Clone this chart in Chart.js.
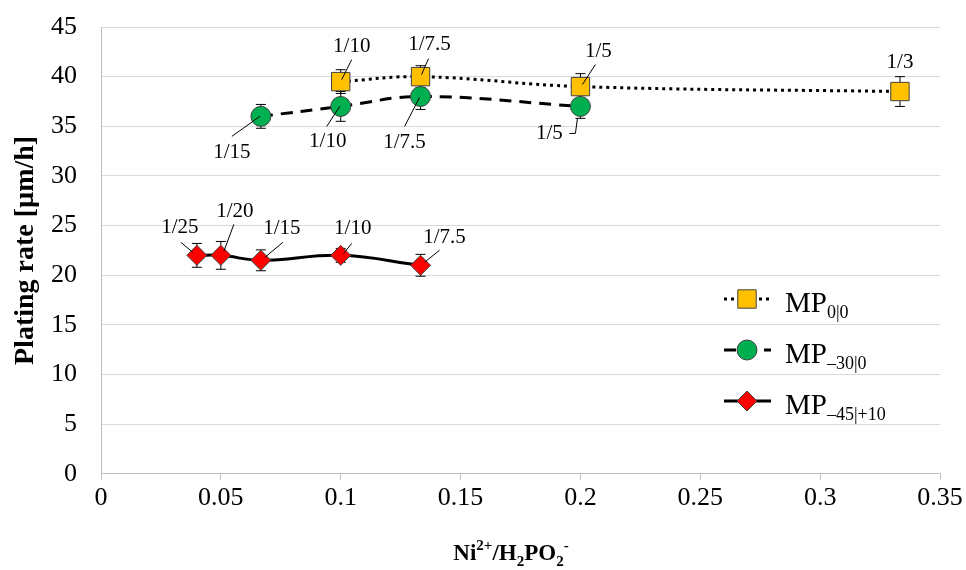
<!DOCTYPE html>
<html lang="en">
<head>
<meta charset="UTF-8">
<title>Plating rate vs Ni2+/H2PO2- ratio</title>
<script src="https://cdn.jsdelivr.net/npm/chart.js"></script>
<style>
  body { margin: 0; background: #fff; }
</style>
</head>
<body>
<canvas id="rateChart" width="966" height="570"></canvas>
<script>
// ---- data ----
const ratioMP00 = [0.1, 0.1333, 0.2, 0.3333];
const rateMP00 = [39.5, 40.0, 39.0, 38.5];
const errMP00 = [1.2, 1.1, 1.3, 1.5];
const textMP00 = ['1/10', '1/7.5', '1/5', '1/3'];

const ratioMP30 = [0.0667, 0.1, 0.1333, 0.2];
const rateMP30 = [36.0, 37.0, 38.0, 37.0];
const errMP30 = [1.2, 1.5, 1.3, 1.2];
const textMP30 = ['1/15', '1/10', '1/7.5', '1/5'];

const ratioMP45 = [0.04, 0.05, 0.0667, 0.1, 0.1333];
const rateMP45 = [22.0, 22.0, 21.5, 22.0, 21.0];
const errMP45 = [1.2, 1.4, 1.05, 0.7, 1.1];
const textMP45 = ['1/25', '1/20', '1/15', '1/10', '1/7.5'];

// label placement (pixel offsets from the point): text centre + leader polyline
const placeMP00 = [
  { t: [11, -35], l: [[11, -22], [1, -2]] },
  { t: [9, -32], l: [[8, -18], [1, -2]] },
  { t: [18, -35], l: [[15, -22], [2, -2]] },
  { t: [0, -29], l: null }
];
const placeMP30 = [
  { t: [-29, 36], l: [[-29, 20], [-1, 0]] },
  { t: [-13, 35], l: [[-14, 20], [-1, 0]] },
  { t: [-16, 46], l: [[-16, 30], [-1, 1]] },
  { t: [-31, 27], l: [[-11, 27], [-5, 27], [-3, 12]] }
];
const placeMP45 = [
  { t: [-17, -28], l: [[-16, -13], [-4, -3]] },
  { t: [14, -44], l: [[13, -31], [3, -4]] },
  { t: [21, -32], l: [[22, -18], [4, -3]] },
  { t: [12, -27], l: [[11, -12], [3, -2]] },
  { t: [24, -28], l: [[19, -15], [4, -3]] }
];

const serif = 'Liberation Serif';
const axisGrey = '#bfbfbf';
const toXY = (xs, ys) => xs.map((x, i) => ({ x: x, y: ys[i] }));

// error bars, drawn under the markers
const errorBars = {
  id: 'errorBars',
  beforeDatasetsDraw(chart) {
    const ctx = chart.ctx, xs = chart.scales.x, ys = chart.scales.y;
    ctx.save();
    ctx.strokeStyle = '#000';
    ctx.lineWidth = 1;
    chart.data.datasets.forEach(ds => {
      ds.data.forEach((p, i) => {
        const x = xs.getPixelForValue(p.x);
        const y1 = ys.getPixelForValue(p.y + ds.err[i]);
        const y2 = ys.getPixelForValue(p.y - ds.err[i]);
        ctx.beginPath();
        ctx.moveTo(x, y1); ctx.lineTo(x, y2);
        ctx.moveTo(x - 5, y1); ctx.lineTo(x + 5, y1);
        ctx.moveTo(x - 5, y2); ctx.lineTo(x + 5, y2);
        ctx.stroke();
      });
    });
    ctx.restore();
  }
};

// ratio labels with leader lines
const ratioLabels = {
  id: 'ratioLabels',
  afterDatasetsDraw(chart) {
    const ctx = chart.ctx, xs = chart.scales.x, ys = chart.scales.y;
    ctx.save();
    ctx.font = '21px "' + serif + '"';
    ctx.textAlign = 'center';
    ctx.textBaseline = 'middle';
    ctx.fillStyle = '#000';
    ctx.strokeStyle = '#000';
    ctx.lineWidth = 1;
    chart.data.datasets.forEach(ds => {
      ds.data.forEach((p, i) => {
        const px = xs.getPixelForValue(p.x), py = ys.getPixelForValue(p.y);
        const pl = ds.place[i];
        if (pl.l) {
          ctx.beginPath();
          pl.l.forEach((o, k) => k ? ctx.lineTo(px + o[0], py + o[1]) : ctx.moveTo(px + o[0], py + o[1]));
          ctx.stroke();
        }
        ctx.fillText(ds.texts[i], px + pl.t[0], py + pl.t[1]);
      });
    });
    ctx.restore();
  }
};

// text with sub/superscripts: parts = [text, shift]
function drawRich(ctx, parts, cx, y, big, small, bold) {
  const w = bold ? 'bold ' : '';
  let total = 0;
  parts.forEach(p => {
    ctx.font = w + (p[1] ? small : big) + 'px "' + serif + '"';
    total += ctx.measureText(p[0]).width;
  });
  let x = cx - total / 2;
  parts.forEach(p => {
    ctx.font = w + (p[1] ? small : big) + 'px "' + serif + '"';
    ctx.fillText(p[0], x, y + p[1]);
    x += ctx.measureText(p[0]).width;
  });
}

// x-axis title and legend
const extras = {
  id: 'extras',
  afterDraw(chart) {
    const ctx = chart.ctx;
    ctx.save();
    ctx.fillStyle = '#000';
    ctx.textAlign = 'left';
    ctx.textBaseline = 'alphabetic';
    drawRich(ctx, [['Ni', 0], ['2+', -10], ['/H', 0], ['2', 6], ['PO', 0], ['2', 6], ['-', -10]],
      511, 560, 23, 15, true);

    const rows = [
      { ds: chart.data.datasets[0], sub: '0|0', y: 299 },
      { ds: chart.data.datasets[1], sub: '\u201330|0', y: 350 },
      { ds: chart.data.datasets[2], sub: '\u201345|+10', y: 401 }
    ];
    rows.forEach(r => {
      ctx.save();
      ctx.strokeStyle = '#000';
      ctx.lineWidth = 3;
      ctx.setLineDash(r.ds.borderDash || []);
      ctx.beginPath();
      ctx.moveTo(724, r.y); ctx.lineTo(771, r.y);
      ctx.stroke();
      ctx.restore();
      ctx.fillStyle = r.ds.pointBackgroundColor;
      ctx.strokeStyle = r.ds.pointBorderColor;
      ctx.lineWidth = 1;
      Chart.helpers.drawPoint(ctx, { pointStyle: r.ds.pointStyle, radius: r.ds.pointRadius, rotation: 0, borderWidth: 1 }, 747, r.y);
      ctx.fillStyle = '#000';
      ctx.font = '29px "' + serif + '"';
      ctx.fillText('MP', 785, r.y + 13);
      const mw = ctx.measureText('MP').width;
      ctx.font = '18px "' + serif + '"';
      ctx.fillText(r.sub, 785 + mw, r.y + 19);
    });
    ctx.restore();
  }
};

const ctx = document.getElementById('rateChart').getContext('2d');
new Chart(ctx, {
  type: 'line',
  data: {
    datasets: [
      {
        label: 'MP0|0', data: toXY(ratioMP00, rateMP00), err: errMP00, texts: textMP00, place: placeMP00,
        borderColor: '#000', borderWidth: 3, borderDash: [3, 4], tension: 0.4,
        pointStyle: 'rect', pointRadius: 13, pointBackgroundColor: '#FFC000',
        pointBorderColor: '#404040', pointBorderWidth: 1, order: 1
      },
      {
        label: 'MP-30|0', data: toXY(ratioMP30, rateMP30), err: errMP30, texts: textMP30, place: placeMP30,
        borderColor: '#000', borderWidth: 3, borderDash: [12, 8], tension: 0.4,
        pointStyle: 'circle', pointRadius: 10, pointBackgroundColor: '#00B050',
        pointBorderColor: '#404040', pointBorderWidth: 1, order: 2
      },
      {
        label: 'MP-45|+10', data: toXY(ratioMP45, rateMP45), err: errMP45, texts: textMP45, place: placeMP45,
        borderColor: '#000', borderWidth: 3, tension: 0.4,
        pointStyle: 'rectRot', pointRadius: 10, pointBackgroundColor: '#FF0000',
        pointBorderColor: '#404040', pointBorderWidth: 1, order: 3
      }
    ]
  },
  options: {
    responsive: false,
    animation: false,
    layout: { padding: { left: 0, top: 27, right: 26, bottom: 53 } },
    plugins: { legend: { display: false }, tooltip: { enabled: false } },
    scales: {
      x: {
        type: 'linear', min: 0, max: 0.35,
        grid: { drawOnChartArea: false, drawTicks: true, tickLength: 6, color: axisGrey },
        border: { display: true, color: axisGrey },
        ticks: {
          stepSize: 0.05, padding: 3, color: '#000',
          font: { family: serif, size: 26 },
          callback: v => String(parseFloat(v.toFixed(2)))
        }
      },
      y: {
        min: 0, max: 45,
        afterFit: s => { s.width = 101; s.paddingTop = 0; s.paddingBottom = 0; },
        grid: { color: '#d9d9d9', lineWidth: 1, drawTicks: false },
        border: { display: true, color: axisGrey },
        ticks: { stepSize: 5, padding: 24, color: '#000', font: { family: serif, size: 26 } },
        title: {
          display: true, text: 'Plating rate [\u00b5m/h]', color: '#000',
          font: { family: serif, size: 28, weight: 'bold' },
          padding: { top: 9, bottom: 0 }
        }
      }
    }
  },
  plugins: [errorBars, ratioLabels, extras]
});
</script>
</body>
</html>
